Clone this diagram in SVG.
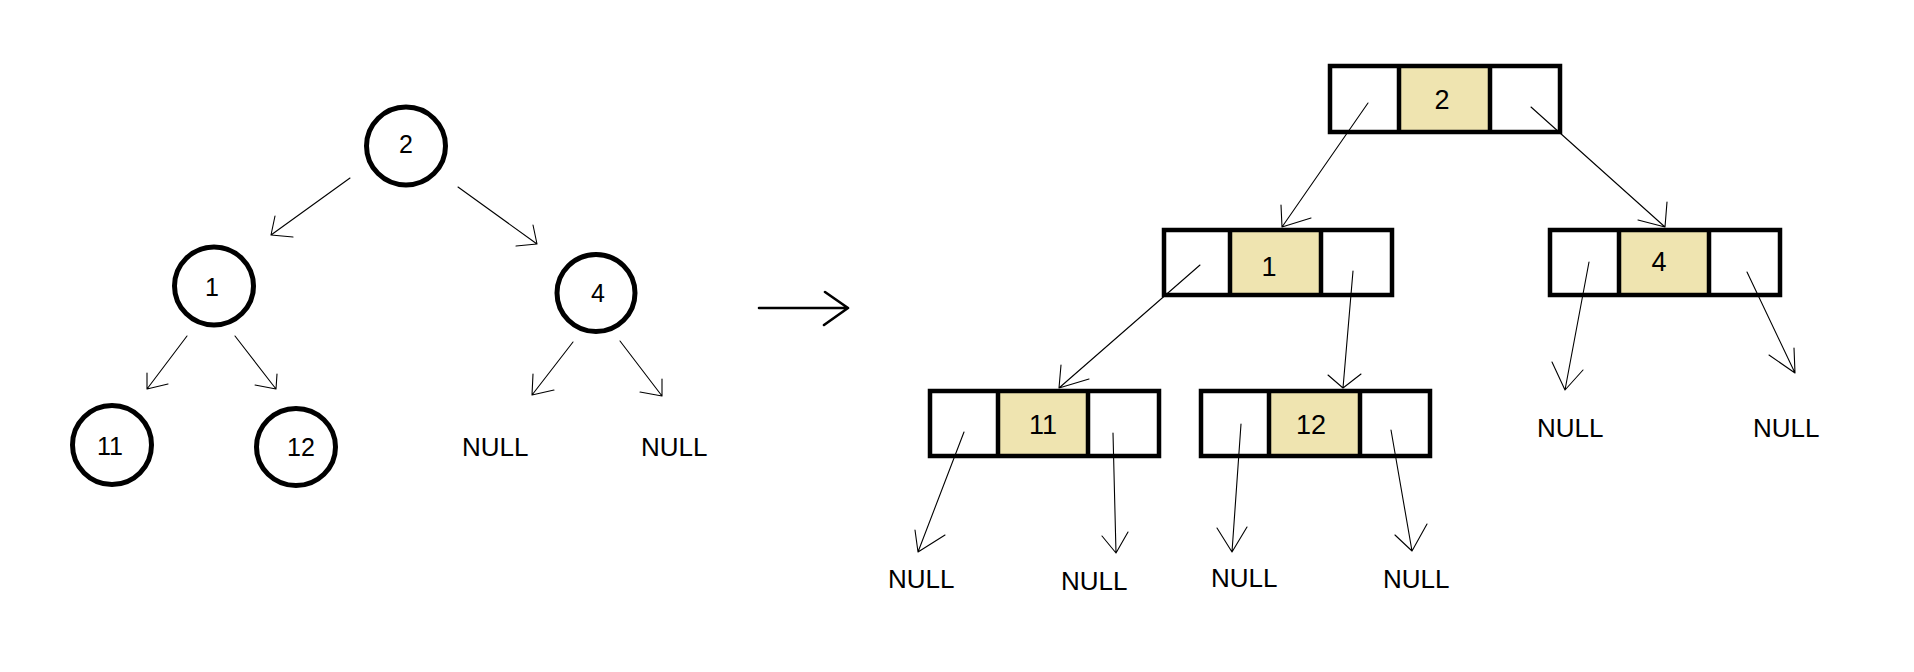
<svg xmlns="http://www.w3.org/2000/svg" width="1914" height="672" viewBox="0 0 1914 672">
<style>
.c{fill:none;stroke:#000;stroke-width:5}
.b{fill:none;stroke:#000;stroke-width:4.5}
.v{fill:#EFE4B0;stroke:none}
.a{fill:none;stroke:#000;stroke-width:1.1;stroke-linecap:round;stroke-linejoin:round}
.big{fill:none;stroke:#000;stroke-width:2.6;stroke-linecap:round;stroke-linejoin:round}
.t{font-family:"Liberation Sans",Arial,sans-serif;font-size:25px;fill:#000;text-anchor:middle}
.tr{font-family:"Liberation Sans",Arial,sans-serif;font-size:27px;fill:#000;text-anchor:middle}
.n{font-family:"Liberation Sans",Arial,sans-serif;font-size:26px;fill:#000}
</style>
<rect width="1914" height="672" fill="#fff"/>
<g id="left-tree">
<g id="c2"><ellipse class="c" cx="406" cy="146" rx="39.5" ry="39"/><text class="t" x="406" y="153">2</text></g>
<g id="c1"><ellipse class="c" cx="214" cy="286" rx="39.5" ry="39"/><text class="t" x="212" y="296">1</text></g>
<g id="c4"><ellipse class="c" cx="596" cy="293" rx="39" ry="38.5"/><text class="t" x="598" y="302">4</text></g>
<g id="c11"><ellipse class="c" cx="112" cy="445" rx="39.5" ry="39.5"/><text class="t" x="110" y="455">11</text></g>
<g id="c12"><ellipse class="c" cx="296" cy="447" rx="39.5" ry="38.5"/><text class="t" x="301" y="456">12</text></g>
<g id="lnull1"><text class="n" x="462" y="456">NULL</text></g>
<g id="lnull2"><text class="n" x="641" y="456">NULL</text></g>
</g>
<g id="right-tree">
<g id="b2"><rect class="v" x="1399" y="66" width="91" height="66"/><rect class="b" x="1330" y="66" width="230" height="66"/><path class="b" d="M1399 66V132M1490 66V132"/><text class="tr" x="1442" y="109">2</text></g>
<g id="b1"><rect class="v" x="1230" y="230" width="91" height="65"/><rect class="b" x="1164" y="230" width="228" height="65"/><path class="b" d="M1230 230V295M1321 230V295"/><text class="tr" x="1269" y="276">1</text></g>
<g id="b4"><rect class="v" x="1619" y="230" width="90" height="65"/><rect class="b" x="1550" y="230" width="230" height="65"/><path class="b" d="M1619 230V295M1709 230V295"/><text class="tr" x="1659" y="271">4</text></g>
<g id="b11"><rect class="v" x="998" y="391" width="90" height="65"/><rect class="b" x="930" y="391" width="229" height="65"/><path class="b" d="M998 391V456M1088 391V456"/><text class="tr" x="1043" y="434">11</text></g>
<g id="b12"><rect class="v" x="1269" y="391" width="91" height="65"/><rect class="b" x="1201" y="391" width="229" height="65"/><path class="b" d="M1269 391V456M1360 391V456"/><text class="tr" x="1311" y="434">12</text></g>
<g id="rnull1"><text class="n" x="1537" y="437">NULL</text></g>
<g id="rnull2"><text class="n" x="1753" y="437">NULL</text></g>
<g id="rnull3"><text class="n" x="888" y="588">NULL</text></g>
<g id="rnull4"><text class="n" x="1061" y="590">NULL</text></g>
<g id="rnull5"><text class="n" x="1211" y="587">NULL</text></g>
<g id="rnull6"><text class="n" x="1383" y="588">NULL</text></g>
</g>
<g id="connectors">
<path class="a" d="M350 178L271 235M275 216L271 235L293 237"/>
<path class="a" d="M458 187L537 244M533 225L537 244L516 246"/>
<path class="a" d="M187 336L147 389M147 373L147 389L168 384"/>
<path class="a" d="M235 336L276 389M277 374L276 389L255 385"/>
<path class="a" d="M573 342L532 395M533 374L532 395L554 390"/>
<path class="a" d="M620 341L662 396M662 379L662 396L640 392"/>
<path class="big" d="M759 308H848M825 292L848 308L824 325"/>
<path class="a" d="M1368 103L1282 227M1281 205L1282 227L1311 218"/>
<path class="a" d="M1531 107L1665 227M1667 202L1665 227L1638 220"/>
<path class="a" d="M1200 265L1059 388M1061 365L1059 388L1089 379"/>
<path class="a" d="M1353 271L1343 388M1328 375L1343 388L1361 374"/>
<path class="a" d="M1589 262L1565 390M1552 362L1565 390L1583 370"/>
<path class="a" d="M1747 272L1795 373M1769 355L1795 373L1794 348"/>
<path class="a" d="M964 432L918 552M915 530L918 552L945 535"/>
<path class="a" d="M1113 433L1116 553M1102 536L1116 553L1128 532"/>
<path class="a" d="M1241 424L1232 552M1217 528L1232 552L1247 527"/>
<path class="a" d="M1391 430L1412 551M1395 535L1412 551L1427 524"/>
</g>
</svg>
